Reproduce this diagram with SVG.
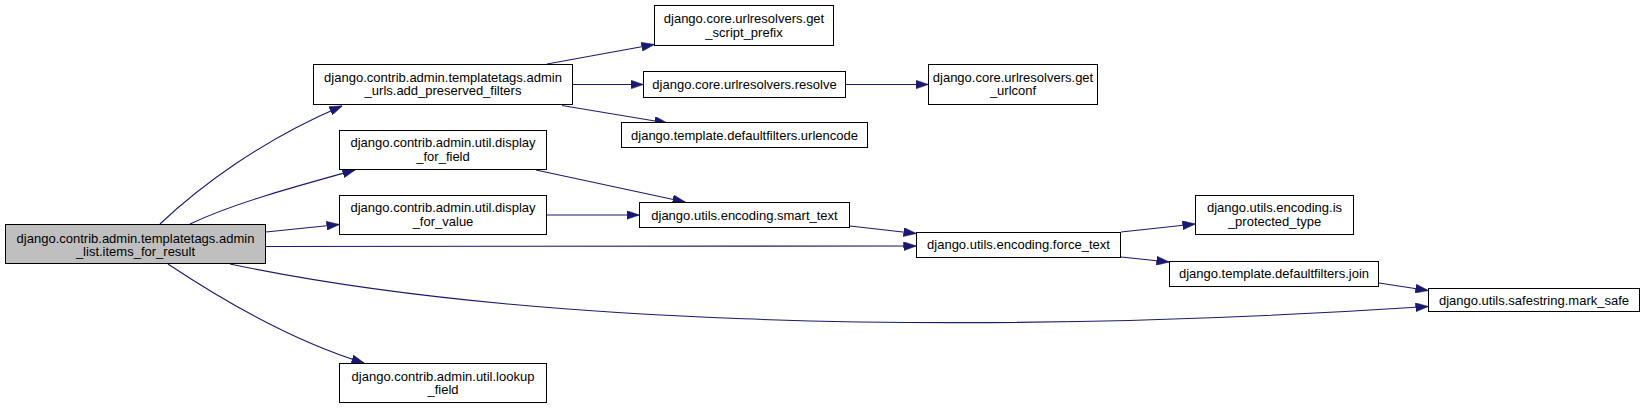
<svg xmlns="http://www.w3.org/2000/svg" width="1645" height="409" viewBox="0 0 1645 409">
<style>
.box{fill:#ffffff;stroke:#000000;stroke-width:1}
.root{fill:#bfbfbf;stroke:#000000;stroke-width:1}
text{font-family:"Liberation Sans",Arial,sans-serif;font-size:13px;fill:#000000;text-anchor:middle}
.e{fill:none;stroke:#191970;stroke-width:1.1;marker-end:url(#arr)}
</style>
<defs>
<marker id="arr" markerUnits="userSpaceOnUse" markerWidth="13" markerHeight="9" viewBox="0 0 13 9" refX="12.5" refY="4.5" orient="auto">
<path d="M0,0 L13,4.5 L0,9 z" fill="#191970" stroke="#191970" stroke-width="0.5"/>
</marker>
</defs>
<rect width="1645" height="409" fill="#ffffff"/>
<g id="connectors">
<path class="e" d="M160,224 C200,186 262,140 342,106"/>
<path class="e" d="M190,224 C232,204 290,188 355,170"/>
<path class="e" d="M266,232 L339,224.5"/>
<path class="e" d="M266,246.5 C520,247.5 760,248 916,246"/>
<path class="e" d="M230,264 C500,321 930,339 1428,306.5"/>
<path class="e" d="M168,264 C228,304 296,342 364,363"/>
<path class="e" d="M547,64 L654,44.5"/>
<path class="e" d="M573,84.5 L643,84.5"/>
<path class="e" d="M562,105.5 L667,123"/>
<path class="e" d="M846,84.5 L928,84.5"/>
<path class="e" d="M536,170 L685,202"/>
<path class="e" d="M547,215 L639,215"/>
<path class="e" d="M850,226 L916,233.5"/>
<path class="e" d="M1121,232 L1195,224"/>
<path class="e" d="M1121,257 L1169,262"/>
<path class="e" d="M1379,283 L1428,290.5"/>
</g>
<g id="items_for_result">
<rect class="root" x="5.5" y="224.5" width="260" height="39"/>
<text x="135.5" y="243">django.contrib.admin.templatetags.admin</text>
<text x="135.5" y="256">_list.items_for_result</text>
</g>
<g id="add_preserved_filters">
<rect class="box" x="313.5" y="64.5" width="259" height="40"/>
<text x="443" y="82">django.contrib.admin.templatetags.admin</text>
<text x="443" y="95">_urls.add_preserved_filters</text>
</g>
<g id="get_script_prefix">
<rect class="box" x="654.5" y="5.5" width="179" height="40"/>
<text x="744" y="23">django.core.urlresolvers.get</text>
<text x="744" y="37">_script_prefix</text>
</g>
<g id="resolve">
<rect class="box" x="643.5" y="71.5" width="202" height="26"/>
<text x="744.5" y="88.5">django.core.urlresolvers.resolve</text>
</g>
<g id="get_urlconf">
<rect class="box" x="928.5" y="64.5" width="169" height="40"/>
<text x="1013" y="82">django.core.urlresolvers.get</text>
<text x="1013" y="95">_urlconf</text>
</g>
<g id="urlencode">
<rect class="box" x="621.5" y="122.5" width="246" height="25"/>
<text x="744.5" y="139.5">django.template.defaultfilters.urlencode</text>
</g>
<g id="display_for_field">
<rect class="box" x="339.5" y="130.5" width="207" height="39"/>
<text x="443" y="147">django.contrib.admin.util.display</text>
<text x="443" y="161">_for_field</text>
</g>
<g id="display_for_value">
<rect class="box" x="339.5" y="195.5" width="207" height="39"/>
<text x="443" y="212">django.contrib.admin.util.display</text>
<text x="443" y="226">_for_value</text>
</g>
<g id="smart_text">
<rect class="box" x="639.5" y="202.5" width="210" height="25"/>
<text x="744.5" y="219.5">django.utils.encoding.smart_text</text>
</g>
<g id="force_text">
<rect class="box" x="916.5" y="232.5" width="204" height="25"/>
<text x="1018.5" y="248.5">django.utils.encoding.force_text</text>
</g>
<g id="is_protected_type">
<rect class="box" x="1195.5" y="195.5" width="158" height="39"/>
<text x="1274.5" y="212">django.utils.encoding.is</text>
<text x="1274.5" y="226">_protected_type</text>
</g>
<g id="join">
<rect class="box" x="1169.5" y="261.5" width="209" height="25"/>
<text x="1274" y="277.5">django.template.defaultfilters.join</text>
</g>
<g id="mark_safe">
<rect class="box" x="1428.5" y="288.5" width="211" height="23"/>
<text x="1534" y="304.5">django.utils.safestring.mark_safe</text>
</g>
<g id="lookup_field">
<rect class="box" x="339.5" y="363.5" width="207" height="39"/>
<text x="443" y="381">django.contrib.admin.util.lookup</text>
<text x="443" y="394">_field</text>
</g>
</svg>
